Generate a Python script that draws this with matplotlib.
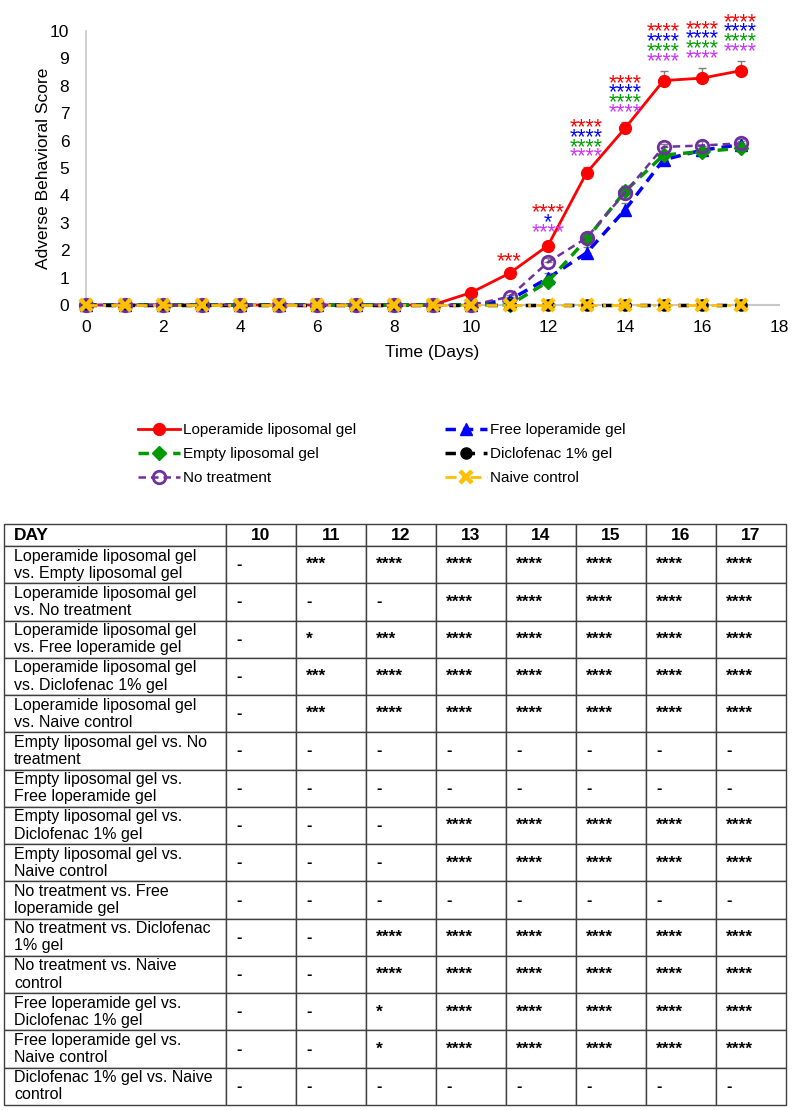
import matplotlib
matplotlib.use("Agg")
import matplotlib.pyplot as plt

plt.rcParams['font.family'] = ['Liberation Sans', 'DejaVu Sans']

# ---------------- data ----------------
days = [0, 1, 2, 3, 4, 5, 6, 7, 8, 9, 10, 11, 12, 13, 14, 15, 16, 17]
lop_lipo = [0, 0, 0, 0, 0, 0, 0, 0, 0, 0, 0.45, 1.16, 2.17, 4.82, 6.45, 8.19, 8.28, 8.55]
lop_lipo_err = [0, 0, 0, 0, 0, 0, 0, 0, 0, 0, 0.05, 0.08, 0.12, 0.23, 0.22, 0.35, 0.36, 0.35]
free_lop = [0, 0, 0, 0, 0, 0, 0, 0, 0, 0, 0, 0.18, 0.98, 1.9, 3.47, 5.3, 5.65, 5.85]
free_lop_err = [0, 0, 0, 0, 0, 0, 0, 0, 0, 0, 0, 0.08, 0.2, 0.2, 0.25, 0.15, 0.15, 0.15]
empty_lipo = [0, 0, 0, 0, 0, 0, 0, 0, 0, 0, 0, 0, 0.85, 2.4, 4.15, 5.47, 5.6, 5.72]
empty_lipo_err = [0, 0, 0, 0, 0, 0, 0, 0, 0, 0, 0, 0, 0.12, 0.2, 0.2, 0.15, 0.12, 0.12]
diclofenac = [0, 0, 0, 0, 0, 0, 0, 0, 0, 0, 0, 0, 0, 0, 0, 0, 0, 0]
no_treat = [0, 0, 0, 0, 0, 0, 0, 0, 0, 0, 0, 0.3, 1.56, 2.45, 4.1, 5.77, 5.82, 5.9]
no_treat_err = [0, 0, 0, 0, 0, 0, 0, 0, 0, 0, 0, 0.08, 0.15, 0.15, 0.26, 0.1, 0.15, 0.15]
naive = [0, 0, 0, 0, 0, 0, 0, 0, 0, 0, 0, 0, 0, 0, 0, 0, 0, 0]

sig_days = [11, 12, 13, 14, 15, 16, 17]
sig_red = ["***", "****", "****", "****", "****", "****", "****"]
sig_blue = ["", "*", "****", "****", "****", "****", "****"]
sig_green = ["", "", "****", "****", "****", "****", "****"]
sig_purple = ["", "****", "****", "****", "****", "****", "****"]

x_ticks = [0, 2, 4, 6, 8, 10, 12, 14, 16, 18]
y_ticks = [0, 1, 2, 3, 4, 5, 6, 7, 8, 9, 10]

table_header = ["DAY", "10", "11", "12", "13", "14", "15", "16", "17"]
table_rows = [
    "Loperamide liposomal gel\nvs. Empty liposomal gel",
    "Loperamide liposomal gel\nvs. No treatment",
    "Loperamide liposomal gel\nvs. Free loperamide gel",
    "Loperamide liposomal gel\nvs. Diclofenac 1% gel",
    "Loperamide liposomal gel\nvs. Naive control",
    "Empty liposomal gel vs. No\ntreatment",
    "Empty liposomal gel vs.\nFree loperamide gel",
    "Empty liposomal gel vs.\nDiclofenac 1% gel",
    "Empty liposomal gel vs.\nNaive control",
    "No treatment vs. Free\nloperamide gel",
    "No treatment vs. Diclofenac\n1% gel",
    "No treatment vs. Naive\ncontrol",
    "Free loperamide gel vs.\nDiclofenac 1% gel",
    "Free loperamide gel vs.\nNaive control",
    "Diclofenac 1% gel vs. Naive\ncontrol",
]
table_values = [
    ["-", "***", "****", "****", "****", "****", "****", "****"],
    ["-", "-", "-", "****", "****", "****", "****", "****"],
    ["-", "*", "***", "****", "****", "****", "****", "****"],
    ["-", "***", "****", "****", "****", "****", "****", "****"],
    ["-", "***", "****", "****", "****", "****", "****", "****"],
    ["-", "-", "-", "-", "-", "-", "-", "-"],
    ["-", "-", "-", "-", "-", "-", "-", "-"],
    ["-", "-", "-", "****", "****", "****", "****", "****"],
    ["-", "-", "-", "****", "****", "****", "****", "****"],
    ["-", "-", "-", "-", "-", "-", "-", "-"],
    ["-", "-", "****", "****", "****", "****", "****", "****"],
    ["-", "-", "****", "****", "****", "****", "****", "****"],
    ["-", "-", "*", "****", "****", "****", "****", "****"],
    ["-", "-", "*", "****", "****", "****", "****", "****"],
    ["-", "-", "-", "-", "-", "-", "-", "-"],
]

# ---------------- styles ----------------
RED = '#ff0000'
BLUE = '#0000ff'
GREEN = '#009900'
BLACK = '#000000'
PURPLE = '#7030a0'
YELLOW = '#ffc000'
STAR_GREEN = '#00a000'
STAR_PURPLE = '#cc33ff'

W, H = 796, 1110
fig = plt.figure(figsize=(W / 100, H / 100), dpi=100)

ax = fig.add_axes([86 / W, 1 - 305 / H, (779 - 86) / W, (305 - 31) / H])

err_kw = dict(fmt='none', ecolor='#7f7f7f', elinewidth=1.0, capsize=3, capthick=1.0, clip_on=False)

def upper(e):
    return [[0] * len(e), e]

ax.errorbar(days, lop_lipo, yerr=upper(lop_lipo_err), zorder=2, **err_kw)
ax.errorbar(days, free_lop, yerr=upper(free_lop_err), zorder=2, **err_kw)
ax.errorbar(days, empty_lipo, yerr=upper(empty_lipo_err), zorder=2, **err_kw)
ax.errorbar(days, no_treat, yerr=upper(no_treat_err), zorder=2, **err_kw)

h_red, = ax.plot(days, lop_lipo, color=RED, lw=2, marker='o', ms=8.5, mfc=RED, mec=RED,
                 label='Loperamide liposomal gel', zorder=3, clip_on=False)
h_blue, = ax.plot(days, free_lop, color=BLUE, lw=2.5, dashes=(3, 2), marker='^', ms=8.5,
                  mfc=BLUE, mec=BLUE, label='Free loperamide gel', zorder=4, clip_on=False)
h_green, = ax.plot(days, empty_lipo, color=GREEN, lw=2.5, dashes=(3, 2), marker='D', ms=7,
                   mfc=GREEN, mec=GREEN, label='Empty liposomal gel', zorder=5, clip_on=False)
h_black, = ax.plot(days, diclofenac, color=BLACK, lw=2.5, dashes=(3, 2.5), marker='o', ms=8,
                   mfc=BLACK, mec=BLACK, label='Diclofenac 1% gel', zorder=6, clip_on=False)
h_purple, = ax.plot(days, no_treat, color=PURPLE, lw=1.8, dashes=(3, 2), marker='o', ms=9,
                    mfc='none', mec=PURPLE, mew=2, label='No treatment', zorder=7, clip_on=False)
h_yellow, = ax.plot(days, naive, color=YELLOW, lw=2, dashes=(4, 2, 1, 2), marker='x', ms=8,
                    mec=YELLOW, mew=3.2, label='Naive control', zorder=8, clip_on=False)

# significance stars
for i, d in enumerate(sig_days):
    base = lop_lipo[d] + lop_lipo_err[d]
    stack = [(sig_purple[i], STAR_PURPLE), (sig_green[i], STAR_GREEN),
             (sig_blue[i], BLUE), (sig_red[i], RED)]
    k = 0
    for txt, col in stack:
        if txt:
            ax.annotate(txt, xy=(d, base), xytext=(0, 3 + k * 7.0), textcoords='offset points',
                        ha='center', va='baseline', color=col, fontsize=15.5,
                        annotation_clip=False, zorder=10)
            k += 1

ax.set_xlim(0, 18)
ax.set_ylim(0, 10)
ax.set_xticks(x_ticks)
ax.set_yticks(y_ticks)
ax.tick_params(axis='both', length=0, labelsize=12.5, colors='black')
ax.tick_params(axis='y', pad=12)
ax.tick_params(axis='x', pad=11)
for s in ['top', 'right']:
    ax.spines[s].set_visible(False)
ax.spines['left'].set_color('#c8c8c8')
ax.spines['bottom'].set_color('#c8c8c8')
ax.spines['left'].set_linewidth(1.2)
ax.spines['bottom'].set_linewidth(1.5)
ax.spines['left'].set_zorder(0)
ax.spines['bottom'].set_zorder(0)
ax.set_ylabel('Adverse Behavioral Score', fontsize=12.5, labelpad=-1)
ax.set_xlabel('Time (Days)', fontsize=12.5, labelpad=7)

# legend (row-wise order)
handles = [h_red, h_green, h_purple, h_blue, h_black, h_yellow]
fig.legend(handles=handles, labels=[h.get_label() for h in handles], ncol=2,
           loc='upper left', bbox_to_anchor=(138 / W, 1 - 423 / H), frameon=False,
           fontsize=11, handlelength=2.75, handletextpad=0.2, columnspacing=5.8,
           labelspacing=0.66, borderpad=0, borderaxespad=0)

# ---------------- table ----------------
tleft, tright, ttop, tbot = 4, 786, 524, 1105
tax = fig.add_axes([tleft / W, 1 - tbot / H, (tright - tleft) / W, (tbot - ttop) / H])
tax.axis('off')
first_w = 222
col_w = [first_w / (tright - tleft)] + [70 / (tright - tleft)] * 8
cell_text = [[lab] + vals for lab, vals in zip(table_rows, table_values)]
tbl = tax.table(cellText=cell_text, colLabels=table_header, colWidths=col_w,
                cellLoc='left', loc='upper left', bbox=[0, 0, 1, 1])
tbl.auto_set_font_size(False)
tbl.set_fontsize(11.5)
header_h = 22
row_h = (tbot - ttop - header_h) / len(table_rows)
for (r, c), cell in tbl.get_celld().items():
    cell.set_edgecolor('#404040')
    cell.set_linewidth(1.0)
    cell.set_height((header_h if r == 0 else row_h) / (tbot - ttop))
    t = cell.get_text()
    t.set_linespacing(1.18)
    if r == 0:
        t.set_fontweight('bold')
        t.set_fontsize(12.5)
        if c == 0:
            cell.PAD = 10 / first_w
            t.set_ha('left')
        else:
            t.set_ha('center')
            cell._loc = 'center'
    else:
        if c == 0:
            cell.PAD = 10 / first_w
        else:
            cell.PAD = 10 / 70
            t.set_fontweight('bold')
            if '*' in t.get_text():
                t.set_fontsize(12.5)

fig.savefig('out.png', dpi=100)
